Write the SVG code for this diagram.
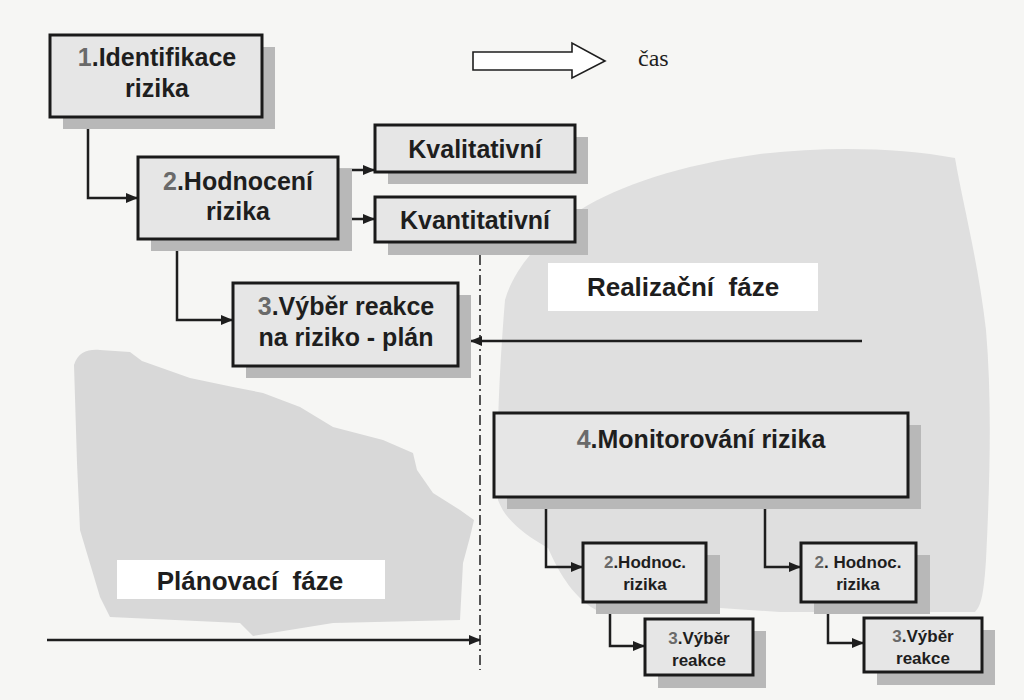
<svg xmlns="http://www.w3.org/2000/svg" width="1024" height="700" viewBox="0 0 1024 700">
<defs>
<marker id="ah" viewBox="0 0 12 10" refX="11" refY="5" markerWidth="13" markerHeight="10" markerUnits="userSpaceOnUse" orient="auto">
<path d="M0,0 L12,5 L0,10 Z" fill="#1e1e1e"/>
</marker>
<style>
.bg{fill:#f6f6f4}
.blob1{fill:#d8d8d8}
.blob2{fill:#dfdfdf}
.shadow{fill:#b8b8b8}
.box{fill:#e6e6e6;stroke:#1a1a1a;stroke-width:3}
.t{font-family:"Liberation Sans",Arial,sans-serif;font-weight:bold;fill:#1e1e1e;text-anchor:middle}
.big{font-size:25px}
.sm{font-size:17px}
.ph{font-size:26px;white-space:pre}
.d{fill:#6a6a6a}
.conn{fill:none;stroke:#1e1e1e;stroke-width:2.5}
.lbl{fill:#ffffff}
</style>
</defs>
<rect class="bg" x="0" y="0" width="1024" height="700"/>
<g id="blobs">
<path class="blob2" d="M505,300 C515,265 545,235 580,210 C620,185 680,165 760,154 C830,146 900,148 955,158 C962,200 978,260 986,330 C992,400 990,480 986,560 C984,590 982,605 975,612 L780,612 L720,608 L600,612 C575,600 560,575 548,548 C525,535 505,520 498,500 C496,440 500,360 505,300 Z"/>
<path class="blob1" d="M74,365 C78,352 88,349 100,350 L130,352 L142,361 L190,378 L233,387 L263,393 L300,407 L333,427 L383,440 L413,453 L417,470 L433,493 L460,510 L474,520 L470,537 L463,563 L460,620 L333,623 L253,636 L240,623 L110,617 L100,597 L80,530 L77,463 Z"/>
</g>
<g id="phase-labels">
<rect class="lbl" x="548" y="263" width="270" height="48"/>
<text class="t ph" x="683" y="296">Realizační  fáze</text>
<rect class="lbl" x="117" y="560" width="268" height="39"/>
<text class="t ph" x="250" y="590">Plánovací  fáze</text>
</g>
<g id="time">
<polygon points="473,52 572,52 572,43 605,61 572,78 572,70 473,70" fill="#ffffff" stroke="#1e1e1e" stroke-width="1.6"/>
<text x="638" y="66" font-family="'Liberation Serif','Times New Roman',serif" font-size="24" fill="#1e1e1e">čas</text>
</g>
<g id="connectors">
<path class="conn" d="M88,117 V198 H137" marker-end="url(#ah)"/>
<path class="conn" d="M338,170 H374" marker-end="url(#ah)"/>
<path class="conn" d="M338,219 H374" marker-end="url(#ah)"/>
<path class="conn" d="M177,239 V320 H232" marker-end="url(#ah)"/>
<path class="conn" d="M862,341 H471" marker-end="url(#ah)"/>
<path class="conn" d="M47,640 H480" marker-end="url(#ah)"/>
<path fill="none" stroke="#1e1e1e" stroke-width="1.5" stroke-dasharray="10,4,2,4" d="M480,255 V670"/>
<path class="conn" d="M546,497 V567 H582" marker-end="url(#ah)"/>
<path class="conn" d="M765,497 V567 H800" marker-end="url(#ah)"/>
<path class="conn" d="M610,602 V646 H644" marker-end="url(#ah)"/>
<path class="conn" d="M828,602 V643 H863" marker-end="url(#ah)"/>
</g>
<g id="n1">
<rect class="shadow" x="63" y="47" width="212" height="82"/>
<rect class="box" x="50" y="35" width="212" height="82"/>
<text class="t big" x="157" y="66"><tspan class="d">1</tspan>.Identifikace</text>
<text class="t big" x="157" y="97">rizika</text>
</g>
<g id="n2">
<rect class="shadow" x="151" y="169" width="201" height="82"/>
<rect class="box" x="138" y="157" width="200" height="82"/>
<text class="t big" x="238" y="190"><tspan class="d">2</tspan>.Hodnocení</text>
<text class="t big" x="238" y="220">rizika</text>
</g>
<g id="kval">
<rect class="shadow" x="388" y="137" width="200" height="47"/>
<rect class="box" x="375" y="125" width="200" height="47"/>
<text class="t big" x="475" y="158">Kvalitativní</text>
</g>
<g id="kvant">
<rect class="shadow" x="388" y="209" width="200" height="46"/>
<rect class="box" x="375" y="197" width="200" height="45"/>
<text class="t big" x="475" y="229">Kvantitativní</text>
</g>
<g id="n3">
<rect class="shadow" x="246" y="295" width="225" height="83"/>
<rect class="box" x="233" y="283" width="225" height="83"/>
<text class="t big" x="346" y="315"><tspan class="d">3</tspan>.Výběr reakce</text>
<text class="t big" x="346" y="346">na riziko - plán</text>
</g>
<g id="n4">
<rect class="shadow" x="507" y="425" width="414" height="84"/>
<rect class="box" x="494" y="413" width="414" height="84"/>
<text class="t big" x="701" y="448"><tspan class="d">4</tspan>.Monitorování rizika</text>
</g>
<g id="h-left">
<rect class="shadow" x="596" y="555" width="124" height="59"/>
<rect class="box" x="583" y="543" width="123" height="59"/>
<text class="t sm" x="645" y="568"><tspan class="d">2</tspan>.Hodnoc.</text>
<text class="t sm" x="645" y="590">rizika</text>
</g>
<g id="h-right">
<rect class="shadow" x="814" y="555" width="116" height="59"/>
<rect class="box" x="801" y="543" width="115" height="59"/>
<text class="t sm" x="858" y="568"><tspan class="d">2</tspan>. Hodnoc.</text>
<text class="t sm" x="858" y="590">rizika</text>
</g>
<g id="v-left">
<rect class="shadow" x="658" y="631" width="108" height="57"/>
<rect class="box" x="645" y="619" width="108" height="56"/>
<text class="t sm" x="699" y="644"><tspan class="d">3</tspan>.Výběr</text>
<text class="t sm" x="699" y="666">reakce</text>
</g>
<g id="v-right">
<rect class="shadow" x="877" y="630" width="118" height="55"/>
<rect class="box" x="864" y="618" width="118" height="54"/>
<text class="t sm" x="923" y="642"><tspan class="d">3</tspan>.Výběr</text>
<text class="t sm" x="923" y="664">reakce</text>
</g>
</svg>
